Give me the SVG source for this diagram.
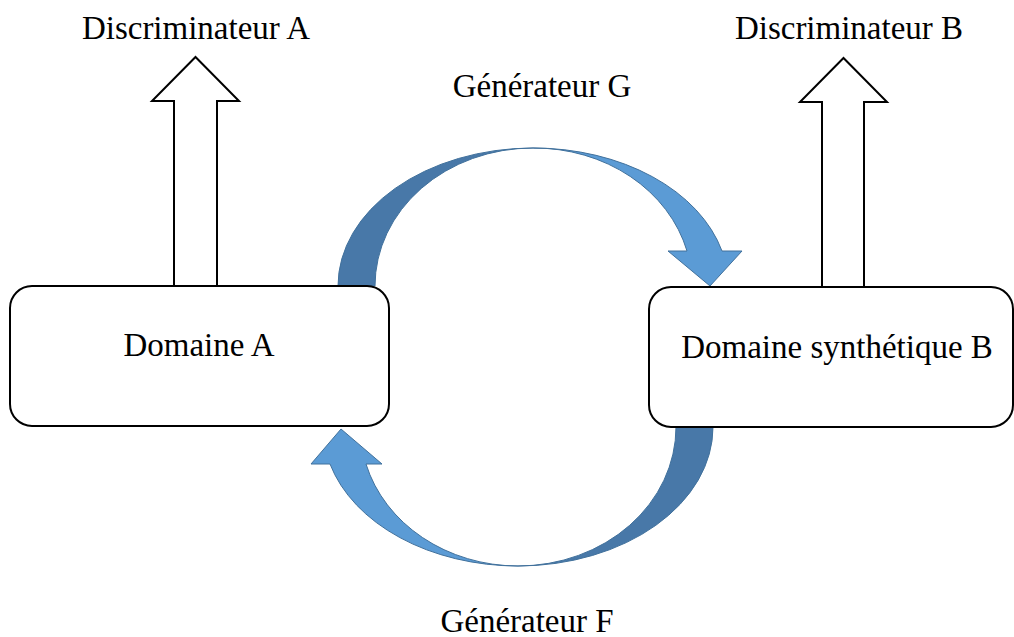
<svg xmlns="http://www.w3.org/2000/svg" width="1014" height="637" viewBox="0 0 1014 637">
<style>
.t{font-family:"Liberation Serif","Times New Roman",serif;font-size:33px;fill:#000;text-anchor:middle}
.box{fill:#fff;stroke:#000;stroke-width:2}
.up{fill:#fff;stroke:#000;stroke-width:2;stroke-linejoin:miter}
.dk{fill:#4878A8;stroke:#41719C;stroke-width:1}
.lt{fill:#5B9BD5;stroke:#41719C;stroke-width:1}
</style>
<rect width="1014" height="637" fill="#fff"/>
<g id="connectors">
<g id="discA-arrow"><path class="up" d="M174,286 L174,101 L152,101 L195.5,57 L239,101 L217,101 L217,286"/></g>
<g id="discB-arrow"><path class="up" d="M822,287 L822,102 L800,102 L843.5,58 L887,102 L864,102 L864,287"/></g>
<g id="genG">
<path class="dk" d="M338,286 A195,138 0 0 1 533,148 A158,138 0 0 0 375,286 Z"/>
<path class="lt" d="M533,148 A195,138 0 0 1 722,251 L742,251 L710,286 L668,251 L687,251 A158,138 0 0 0 533,148 Z"/>
</g>
<g id="genF">
<path class="dk" d="M713,427 A195,139 0 0 1 518,566 A158,139 0 0 0 676,427 Z"/>
<path class="lt" d="M518,566 A195,139 0 0 1 330,464 L311,464 L341,429 L382,464 L366,464 A158,139 0 0 0 518,566 Z"/>
</g>
</g>
<g id="domaineA">
<rect class="box" x="10" y="286" width="379" height="140" rx="22" ry="22"/>
<text class="t" x="199" y="356">Domaine A</text>
</g>
<g id="domaineB">
<rect class="box" x="649" y="287" width="364" height="140" rx="22" ry="22"/>
<text class="t" x="837" y="358">Domaine synthétique B</text>
</g>
<g id="labels">
<text class="t" x="196" y="39">Discriminateur A</text>
<text class="t" x="849" y="39">Discriminateur B</text>
<text class="t" x="542" y="97">Générateur G</text>
<text class="t" x="527" y="632">Générateur F</text>
</g>
</svg>
